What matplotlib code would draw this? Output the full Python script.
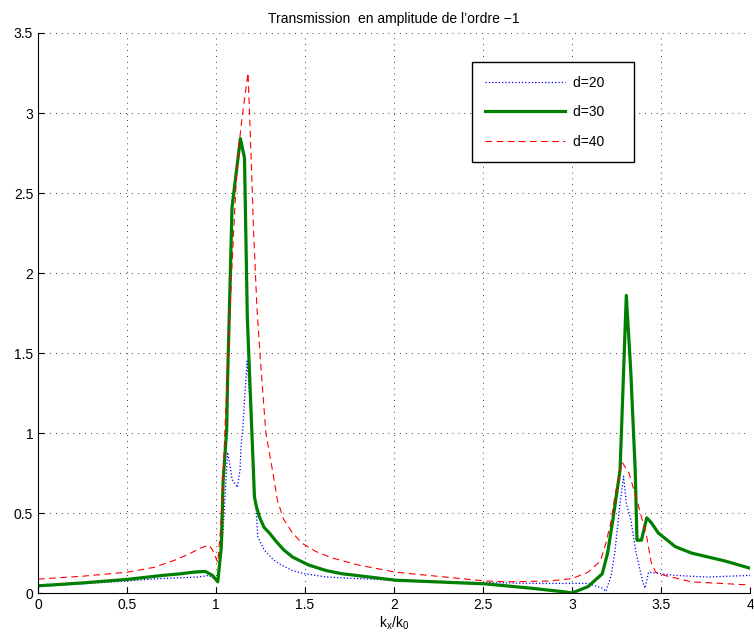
import matplotlib
matplotlib.use("Agg")
import matplotlib.pyplot as plt

plt.rcParams['font.family'] = ['Liberation Sans', 'DejaVu Sans']

# d=20 (blue dotted)
x20 = [0, 0.25, 0.5, 0.68, 0.9, 0.96, 0.975, 1.01, 1.04, 1.065, 1.08, 1.09, 1.12,
       1.135, 1.14, 1.15, 1.16, 1.175, 1.20, 1.215, 1.227, 1.235, 1.27,
       1.32, 1.36, 1.43, 1.5, 1.62, 1.8, 2.01, 2.515, 2.8, 3.0, 3.09, 3.17, 3.19,
       3.22, 3.24, 3.27, 3.29, 3.305, 3.33, 3.36, 3.40, 3.41, 3.43, 3.58, 3.76, 4.0]
y20 = [0.04, 0.058, 0.075, 0.09, 0.10, 0.11, 0.10, 0.08, 0.39, 0.88, 0.79, 0.71, 0.66,
       0.77, 0.91, 1.02, 1.2, 1.45, 1.05, 0.65, 0.5, 0.35, 0.27,
       0.21, 0.18, 0.14, 0.12, 0.10, 0.09, 0.08, 0.065, 0.06, 0.06, 0.06, 0.03, 0.01,
       0.11, 0.25, 0.56, 0.73, 0.56, 0.46, 0.25, 0.06, 0.03, 0.13, 0.11, 0.10, 0.11]

# d=30 (green solid)
x30 = [0, 0.25, 0.5, 0.7, 0.8, 0.87, 0.94, 0.98, 1.01, 1.03, 1.04, 1.06, 1.065,
       1.09, 1.137, 1.16, 1.176, 1.216, 1.227, 1.244, 1.27, 1.30, 1.34, 1.38,
       1.43, 1.52, 1.62, 1.71, 1.75, 2.01, 2.515, 2.77, 2.96, 3.0, 3.09, 3.17,
       3.2, 3.23, 3.27, 3.29, 3.305, 3.33, 3.355, 3.365, 3.39, 3.42, 3.445,
       3.485, 3.58, 3.67, 3.86, 4.0]
y30 = [0.045, 0.063, 0.085, 0.11, 0.12, 0.13, 0.135, 0.11, 0.07, 0.29, 0.7, 1.02, 1.33,
       2.41, 2.84, 2.72, 1.72, 0.6, 0.54, 0.475, 0.41, 0.375, 0.32, 0.27,
       0.225, 0.175, 0.14, 0.12, 0.115, 0.08, 0.057, 0.03, 0.007, 0.0, 0.04, 0.12,
       0.25, 0.46, 0.77, 1.39, 1.86, 1.39, 0.77, 0.33, 0.33, 0.47, 0.44,
       0.375, 0.29, 0.25, 0.2, 0.155]

# d=40 (red dashed)
x40 = [0, 0.25, 0.5, 0.65, 0.78, 0.86, 0.91, 0.96, 0.98, 1.01, 1.025, 1.04, 1.05,
       1.06, 1.087, 1.11, 1.12, 1.145, 1.18, 1.19, 1.20, 1.21, 1.23, 1.25,
       1.28, 1.32, 1.345, 1.38, 1.43, 1.485, 1.56, 1.65, 1.80, 2.01, 2.515, 2.64,
       2.87, 3.0, 3.09, 3.16, 3.19, 3.22, 3.24, 3.28, 3.32, 3.37, 3.42, 3.445,
       3.47, 3.52, 3.67, 4.0]
y40 = [0.087, 0.105, 0.13, 0.16, 0.21, 0.25, 0.28, 0.30, 0.27, 0.19, 0.39, 0.7, 1.02,
       1.27, 1.98, 2.5, 2.7, 2.96, 3.25, 2.95, 2.64, 2.29, 1.78, 1.45,
       1.0, 0.75, 0.58, 0.46, 0.375, 0.31, 0.26, 0.22, 0.175, 0.13, 0.075, 0.07,
       0.075, 0.09, 0.13, 0.2, 0.31, 0.45, 0.6, 0.82, 0.75, 0.56, 0.35, 0.19,
       0.13, 0.11, 0.07, 0.05]

xticks = [0, 0.5, 1, 1.5, 2, 2.5, 3, 3.5, 4]
xticklabels = ['0', '0.5', '1', '1.5', '2', '2.5', '3', '3.5', '4']
yticks = [0, 0.5, 1, 1.5, 2, 2.5, 3, 3.5]
yticklabels = ['0', '0.5', '1', '1.5', '2', '2.5', '3', '3.5']

fig = plt.figure(figsize=(7.54, 6.42), dpi=100)
ax = fig.add_axes([0.0504, 0.0763, 0.9443, 0.8723])

ax.plot(x20, y20, color='#0000ff', ls=':', lw=0.9, label='d=20    ')
ax.plot(x30, y30, color='#008000', ls='-', lw=2.3, label='d=30    ')
ax.plot(x40, y40, color='#ff0000', ls=(0, (6, 4)), lw=0.8, label='d=40    ')

ax.set_xlim(0, 4)
ax.set_ylim(0, 3.5)
ax.set_xticks(xticks)
ax.set_xticklabels(xticklabels)
ax.set_yticks(yticks)
ax.set_yticklabels(yticklabels)
ax.tick_params(direction='in', labelsize=10, length=4, width=0.8)
ax.grid(True, color='black', ls=(0, (1, 6)), lw=0.6)
ax.spines['top'].set_visible(False)
ax.spines['right'].set_visible(False)

ax.set_title('Transmission  en amplitude de l\u2019ordre \u22121', fontsize=10, pad=7)
ax.set_xlabel(r'k$_\mathregular{x}$/k$_\mathregular{0}$', fontsize=10, labelpad=2)

leg = ax.legend(loc='upper left', bbox_to_anchor=(0.609, 0.948), borderaxespad=0,
                fancybox=False, edgecolor='black', framealpha=1, fontsize=10,
                handlelength=5.7, labelspacing=1.1, borderpad=1.0, handletextpad=0.6)
leg.get_frame().set_linewidth(1.0)

fig.savefig('out.png', dpi=100)
